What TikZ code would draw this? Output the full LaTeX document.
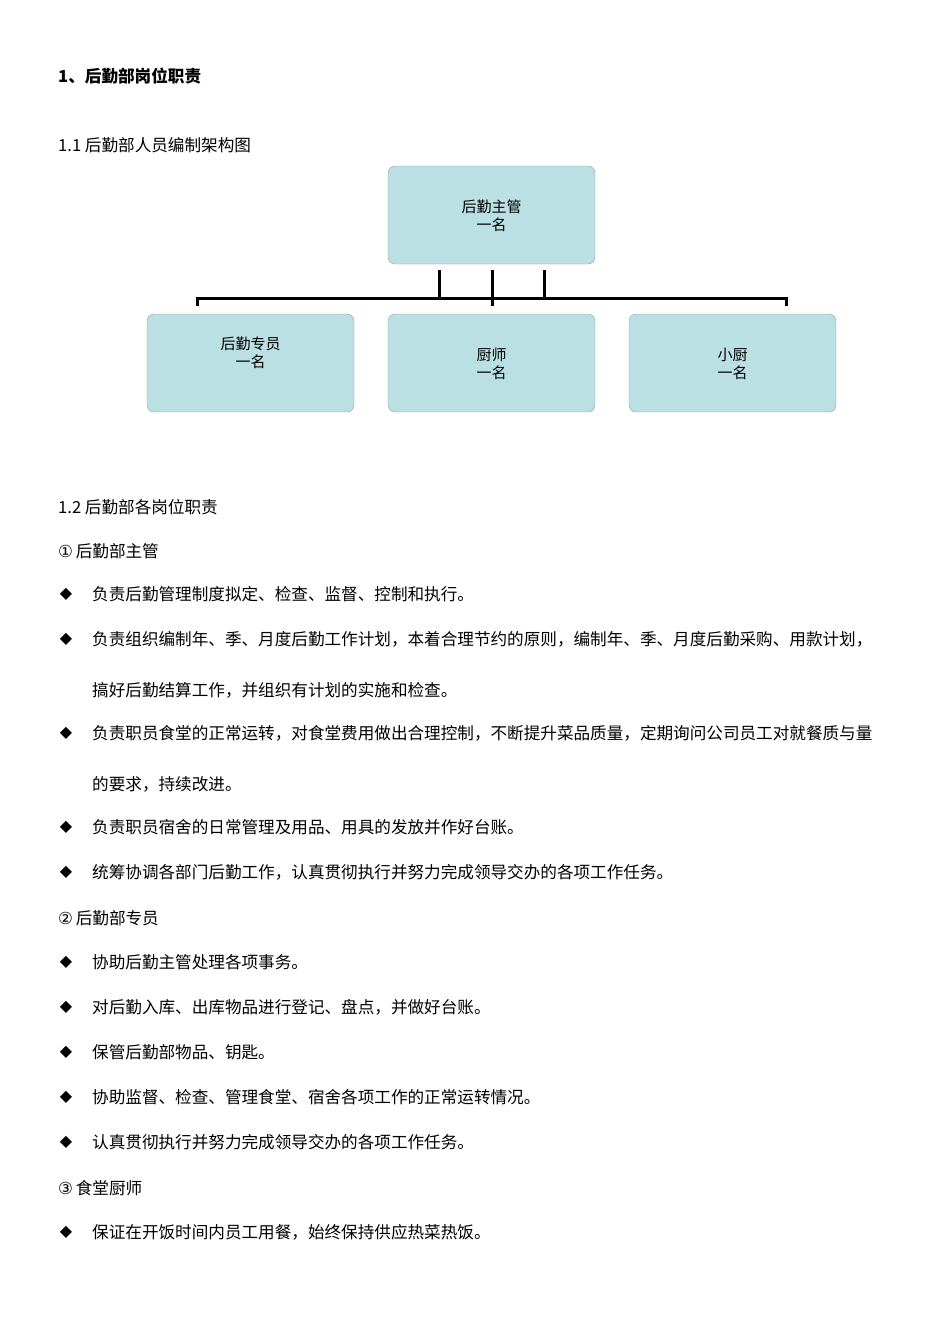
\documentclass[tikz,border=0pt]{standalone}
\usepackage{fontspec}
\setmainfont{Noto Sans CJK SC}
\newfontfamily\symf{DejaVu Sans}
\definecolor{boxfill}{RGB}{187,224,227}
\definecolor{boxline}{RGB}{150,160,160}
\begin{document}
\begin{tikzpicture}[x=1pt,y=-1pt,
  every node/.style={font=\fontsize{16.6}{18}\selectfont, inner sep=0pt},
  txt/.style={anchor=west},
  bul/.style={anchor=center, font=\symf\fontsize{16}{18}\selectfont},
  obox/.style={draw=boxline, fill=boxfill, rounded corners=7pt, minimum width=207pt, minimum height=98pt},
  btxt/.style={align=center, font=\fontsize{15}{18}\selectfont},
  conn/.style={line width=3pt}]
\useasboundingbox (0,0) rectangle (950,1344);
\node[txt, font=\bfseries\fontsize{16.6}{18}\selectfont] (h1) at (58,76) {1、后勤部岗位职责};
\node[txt] (h11) at (58,145) {1.1 后勤部人员编制架构图};
% org chart
\node[obox] (top) at (491.5,215) {};
\node[btxt] (topt) at (491.5,216) {后勤主管\\一名};
\node[obox] (b1) at (250.5,363) {};
\node[btxt] (b1t) at (250.5,353) {后勤专员\\一名};
\node[obox] (b2) at (491.5,363) {};
\node[btxt] (b2t) at (491.5,364) {厨师\\一名};
\node[obox] (b3) at (732.5,363) {};
\node[btxt] (b3t) at (732.5,364) {小厨\\一名};
\coordinate (bus) at (0,298);
\coordinate (t1) at (439,270); \coordinate (t2) at (492,270); \coordinate (t3) at (544,270);
\draw[conn] (t1) -- (t1 |- bus);
\draw[conn] (t3) -- (t3 |- bus);
\draw[conn] (t2) -- (492,306);
\draw[conn] (197,306) -- (197,298) -- (786,298) -- (786,306);
% section 1.2
\node[txt] (h12) at (58,507) {1.2 后勤部各岗位职责};
\node[txt] (s1) at (58,551) {{\symf ①}\,后勤部主管};
\foreach \y/\t [count=\i] in {
 594/{负责后勤管理制度拟定、检查、监督、控制和执行。},
 639/{负责组织编制年、季、月度后勤工作计划，本着合理节约的原则，编制年、季、月度后勤采购、用款计划，},
 733/{负责职员食堂的正常运转，对食堂费用做出合理控制，不断提升菜品质量，定期询问公司员工对就餐质与量},
 827/{负责职员宿舍的日常管理及用品、用具的发放并作好台账。},
 872/{统筹协调各部门后勤工作，认真贯彻执行并努力完成领导交办的各项工作任务。},
 962/{协助后勤主管处理各项事务。},
 1007/{对后勤入库、出库物品进行登记、盘点，并做好台账。},
 1052/{保管后勤部物品、钥匙。},
 1097/{协助监督、检查、管理食堂、宿舍各项工作的正常运转情况。},
 1142/{认真贯彻执行并努力完成领导交办的各项工作任务。},
 1232/{保证在开饭时间内员工用餐，始终保持供应热菜热饭。}}
{
 \node[bul] (bl\i) at (66,\y) {◆};
 \node[txt] (it\i) at (92,\y) {\t};
}
\node[txt] (c2) at (92,690) {搞好后勤结算工作，并组织有计划的实施和检查。};
\node[txt] (c3) at (92,784) {的要求，持续改进。};
\node[txt] (s2) at (58,918) {{\symf ②}\,后勤部专员};
\node[txt] (s3) at (58,1188) {{\symf ③}\,食堂厨师};
\end{tikzpicture}
\end{document}
